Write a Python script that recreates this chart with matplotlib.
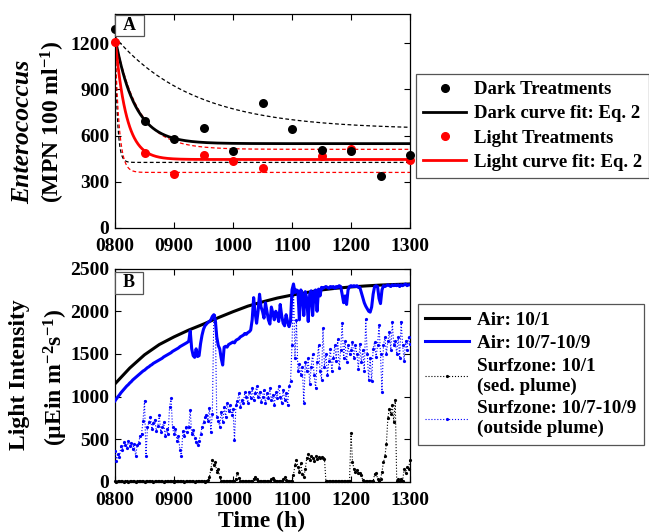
import numpy as np
import matplotlib
matplotlib.use('Agg')
import matplotlib.pyplot as plt
from matplotlib.patches import Rectangle
from matplotlib.lines import Line2D

plt.rcParams['font.family'] = 'Liberation Serif'
plt.rcParams['font.weight'] = 'bold'
plt.rcParams['mathtext.fontset'] = 'custom'
plt.rcParams['mathtext.rm'] = 'Liberation Serif:bold'
plt.rcParams['mathtext.it'] = 'Liberation Serif:italic:bold'
plt.rcParams['mathtext.bf'] = 'Liberation Serif:bold'
plt.rcParams['mathtext.default'] = 'rm'

# ---------------- Panel A data ----------------
dark_hours = [8.0, 8.5, 9.0, 9.5, 10.0, 10.5, 11.0, 11.5, 12.0, 12.5, 13.0]
dark_counts = [1290, 696, 577, 651, 499, 813, 640, 506, 497, 339, 471]
light_hours = [8.0, 8.5, 9.0, 9.5, 10.0, 10.5, 11.5, 12.0, 13.0]
light_counts = [1211, 486, 348, 473, 435, 391, 465, 512, 439]

# Eq. 2 fit parameters: (start, plateau, rate per h)
dark_fit = (1240, 548, 3.0)
dark_fit_hi = (1240, 640, 0.75)
dark_fit_lo = (1240, 426, 25.0)
light_fit = (1240, 445, 5.3)
light_fit_hi = (1240, 511, 2.6)
light_fit_lo = (1240, 361, 15.0)

a_yticks = [0, 300, 600, 900, 1200]
x_ticks = [8, 9, 10, 11, 12, 13]
x_ticklabels = ['0800', '0900', '1000', '1100', '1200', '1300']

# ---------------- Panel B data ----------------
air_a_hours = [8.0, 8.25, 8.5, 8.75, 9.0, 9.25, 9.5, 9.75, 10.0, 10.25, 10.5,
               10.75, 11.0, 11.25, 11.5, 11.75, 12.0, 12.25, 12.5, 12.75, 13.0]
air_a = [1150, 1335, 1490, 1610, 1700, 1780, 1850, 1925, 1995, 2060, 2110,
         2155, 2190, 2220, 2250, 2270, 2285, 2297, 2307, 2314, 2320]

# 1.5-minute samples from 0800 to 1300
air_b = [950, 975, 1000, 1020, 1045, 1065, 1085, 1105, 1125, 1140,
         1160, 1175, 1195, 1210, 1225, 1240, 1255, 1270, 1285, 1300,
         1310, 1325, 1340, 1350, 1365, 1375, 1390, 1400, 1410, 1420,
         1430, 1440, 1450, 1465, 1475, 1485, 1495, 1505, 1515, 1530,
         1540, 1550, 1560, 1570, 1585, 1595, 1605, 1615, 1625, 1635,
         1650, 1770, 1560, 1480, 1460, 1560, 1470, 1480, 1620, 1720,
         1790, 1830, 1850, 1870, 1880, 1900, 1940, 1960, 1900, 1700,
         1600, 1560, 1450, 1370, 1580, 1590, 1580, 1610, 1620, 1630,
         1640, 1630, 1660, 1670, 1680, 1700, 1710, 1720, 1740, 1730,
         1750, 1760, 1780, 1900, 2160, 1980, 1860, 2000, 2200, 2050,
         2000, 1920, 2100, 2000, 1900, 1850, 2050, 1980, 1900, 2000,
         1960, 1880, 2080, 1950, 1860, 1830, 1960, 1880, 1820, 1880,
         2250, 2320, 2220, 2250, 2240, 1900, 2250, 2200, 1950, 2230,
         2150, 1880, 2200, 2240, 1950, 2230, 2250, 2000, 2260, 2180,
         2280, 2270, 2280, 2290, 2280, 2270, 2290, 2280, 2290, 2270,
         2290, 2280, 2300, 2290, 2200, 2100, 2180, 2080, 2250, 2290,
         2300, 2290, 2300, 2290, 2300, 2280, 2280, 2220, 2160, 2100,
         2060, 2030, 2000, 1990, 2050, 2200, 2290, 2300, 2290, 2150,
         2090, 2250, 2300, 2290, 2300, 2310, 2300, 2290, 2310, 2300,
         2310, 2300, 2310, 2290, 2310, 2300, 2310, 2320, 2300, 2310,
         2310]

surf_sed = [10, 5, 8, 12, 6, 9, 4, 10, 7, 5,
            8, 11, 6, 9, 5, 10, 7, 12, 6, 8,
            5, 9, 11, 6, 8, 10, 5, 7, 12, 9,
            6, 8, 10, 5, 9, 7, 11, 6, 8, 10,
            5, 9, 7, 12, 6, 8, 10, 5, 9, 7,
            11, 6, 8, 10, 5, 9, 7, 12, 6, 8,
            10, 5, 9, 20, 60, 150, 260, 200, 230, 120,
            150, 60, 15, 8, 10, 6, 9, 12, 7, 10,
            8, 12, 40, 110, 50, 15, 10, 8, 12, 6,
            9, 7, 11, 15, 40, 60, 30, 10, 8, 12,
            6, 9, 7, 10, 12, 8, 30, 50, 20, 9,
            7, 10, 8, 12, 30, 60, 25, 8, 10, 12,
            10, 80, 200, 260, 180, 120, 220, 90, 60, 150,
            280, 330, 260, 300, 280, 250, 300, 270, 290, 280,
            290, 280, 270, 10, 8, 12, 6, 9, 11, 7,
            10, 8, 12, 6, 9, 11, 7, 10, 8, 12,
            570, 240, 150, 120, 140, 100, 110, 80, 20, 8,
            10, 7, 12, 9, 8, 6, 90, 110, 40, 10,
            30, 120, 230, 300, 450, 750, 860, 800, 900, 700,
            960, 10, 30, 8, 40, 12, 150, 110, 180, 150,
            260]

surf_out = [360, 250, 330, 290, 420, 380, 470, 430, 400, 480,
            420, 460, 390, 440, 300, 430, 460, 540, 560, 720,
            950, 300, 640, 700, 760, 620, 690, 730, 600, 660,
            780, 590, 640, 700, 540, 620, 560, 880, 980, 640,
            560, 620, 480, 540, 380, 300, 600, 540, 640, 590,
            650, 840, 560, 610, 520, 470, 430, 480, 560, 640,
            700, 760, 790, 720, 870, 590, 800, 1960, 1880, 760,
            720, 650, 820, 700, 880, 760, 920, 830, 900, 780,
            850, 490, 900, 950, 1040, 880, 960, 920, 1050, 1000,
            930, 1060, 980, 1100, 960, 1040, 1120, 990, 1060, 940,
            1000, 1080, 920, 1040, 980, 1100, 960, 1020, 900, 1050,
            980, 1130, 1000, 920, 1080, 960, 1040, 900, 1120, 1180,
            1600, 2290, 1450, 1900, 1300, 1380, 1250, 1350, 930, 1400,
            1300, 1450, 1150, 1350, 1500, 1250, 1100, 1400, 1600, 1300,
            1200, 1800, 1350, 1500, 1250, 1420, 1560, 1300, 1450, 1600,
            1420, 1680, 1330, 1550, 1860, 1450, 1650, 1400, 1600, 1500,
            1550, 1640, 1450, 1600, 1500, 1320, 1620, 1400, 1550, 1300,
            1910, 1500, 1200, 1450, 1180, 1560, 1640, 1460, 1600, 1840,
            1500, 1050, 1600, 1700, 1500, 1650, 1760, 1550, 1870, 1600,
            1650, 1500, 1700, 1450, 1880, 1600, 1420, 1650, 1550, 1700,
            1620]

b_yticks = [0, 500, 1000, 1500, 2000, 2500]

surf_hours = np.linspace(8, 13, len(surf_out))

# ---------------- Figure ----------------
W, H = 649, 532
fig = plt.figure(figsize=(W / 100, H / 100), dpi=100)


def px_axes(l, t, r, b):
    return fig.add_axes([l / W, 1 - b / H, (r - l) / W, (b - t) / H])


def style(ax):
    ax.tick_params(direction='in', length=4, width=0.8, top=True, right=True,
                   labelsize=14)
    ax.tick_params(axis='x', pad=7)
    ax.tick_params(axis='y', pad=4)
    for s in ax.spines.values():
        s.set_linewidth(0.9)
    ax.set_xlim(8, 13)
    ax.set_xticks(x_ticks)
    ax.set_xticklabels(x_ticklabels)


def letter(ax, txt, w_px, h_px, top_px):
    aw = ax.get_position().width * W
    ah = ax.get_position().height * H
    w = w_px / aw
    h = h_px / ah
    y0 = 1 - top_px / ah - h
    ax.add_patch(Rectangle((0, y0), w, h, transform=ax.transAxes, fc='white',
                           ec='#555555', lw=0.9, zorder=10, clip_on=False))
    ax.text(w / 2, y0 + h / 2, txt, transform=ax.transAxes, ha='center',
            va='center', fontsize=13, fontweight='bold', zorder=11)


def eq2(params, t):
    c0, cinf, k = params
    return cinf + (c0 - cinf) * np.exp(-k * (t - 8))


# Panel A
axA = px_axes(115, 14, 410, 228)
style(axA)
axA.set_ylim(0, 1390)
axA.set_yticks(a_yticks)
tt = np.linspace(8, 13, 600)
axA.plot(tt, eq2(dark_fit_hi, tt), color='black', ls='--', lw=0.9, dashes=(3, 2))
axA.plot(tt, eq2(dark_fit_lo, tt), color='black', ls='--', lw=0.9, dashes=(3, 2))
axA.plot(tt, eq2(light_fit_hi, tt), color='red', ls='--', lw=0.9, dashes=(3, 2))
axA.plot(tt, eq2(light_fit_lo, tt), color='red', ls='--', lw=0.9, dashes=(3, 2))
axA.plot(tt, eq2(dark_fit, tt), color='black', lw=2.0)
axA.plot(tt, eq2(light_fit, tt), color='red', lw=2.0)
axA.plot(light_hours, light_counts, 'o', color='red', ms=6.5, mew=0, clip_on=False, zorder=5)
axA.plot(dark_hours, dark_counts, 'o', color='black', ms=6.5, mew=0, clip_on=False, zorder=6)
letter(axA, 'A', 29, 21, 1)

handlesA = [Line2D([], [], color='black', marker='o', ls='none', ms=5.5),
            Line2D([], [], color='black', lw=2.0),
            Line2D([], [], color='red', marker='o', ls='none', ms=5.5),
            Line2D([], [], color='red', lw=2.0)]
labelsA = ['Dark Treatments', 'Dark curve fit: Eq. 2', 'Light Treatments',
           'Light curve fit: Eq. 2']
legA = fig.legend(handlesA, labelsA, loc='upper left',
                  bbox_to_anchor=(416 / W, 1 - 74 / H), fontsize=13.5,
                  frameon=True, fancybox=False, edgecolor='#555555',
                  framealpha=1, handlelength=2.3, handletextpad=0.4,
                  labelspacing=0.38, borderpad=0.38, borderaxespad=0)
legA.get_frame().set_linewidth(0.9)

fig.text(23 / W, 1 - 132 / H, 'Enterococcus', rotation=90, ha='center',
         va='center', fontsize=18.5, fontstyle='italic', fontweight='bold')
fig.text(53 / W, 1 - 122 / H, '(MPN 100 ml$^{-1}$)', rotation=90,
         ha='center', va='center', fontsize=17, fontweight='bold')

# Panel B
axB = px_axes(115, 268.6, 410, 482)
style(axB)
axB.set_ylim(0, 2500)
axB.set_yticks(b_yticks)
axB.plot(air_a_hours, air_a, color='black', lw=2.2, zorder=3)
axB.plot(surf_hours, air_b, color='#0000ff', lw=2.2, zorder=4)
axB.plot(surf_hours, surf_out, color='#0000ff', ls=':', lw=0.8, marker='o',
         ms=2.3, mew=0, zorder=5)
axB.plot(surf_hours, surf_sed, color='black', ls=':', lw=0.8, marker='o',
         ms=2.3, mew=0, zorder=6, clip_on=False)
letter(axB, 'B', 28, 22, 3)

handlesB = [Line2D([], [], color='black', lw=2.2),
            Line2D([], [], color='#0000ff', lw=2.2),
            Line2D([], [], color='black', ls=':', lw=0.8, marker='o', ms=2.3, mew=0),
            Line2D([], [], color='#0000ff', ls=':', lw=0.8, marker='o', ms=2.3, mew=0)]
labelsB = ['Air: 10/1', 'Air: 10/7-10/9', 'Surfzone: 10/1\n(sed. plume)',
           'Surfzone: 10/7-10/9\n(outside plume)']
legB = fig.legend(handlesB, labelsB, loc='upper left',
                  bbox_to_anchor=(418 / W, 1 - 304 / H), fontsize=13.8,
                  frameon=True, fancybox=False, edgecolor='#555555',
                  framealpha=1, handlelength=2.3, handletextpad=0.4,
                  labelspacing=0.3, borderpad=0.38, borderaxespad=0)
legB.get_frame().set_linewidth(0.9)

fig.text(20 / W, 1 - 375 / H, 'Light Intensity', rotation=90, ha='center',
         va='center', fontsize=17, fontweight='bold')
fig.text(56 / W, 1 - 377 / H, '(\u00b5Ein m$^{-2}$s$^{-1}$)', rotation=90,
         ha='center', va='center', fontsize=17, fontweight='bold')
fig.text(262 / W, 1 - 521 / H, 'Time (h)', ha='center', va='center',
         fontsize=17, fontweight='bold')

fig.savefig('out.png', dpi=100)
